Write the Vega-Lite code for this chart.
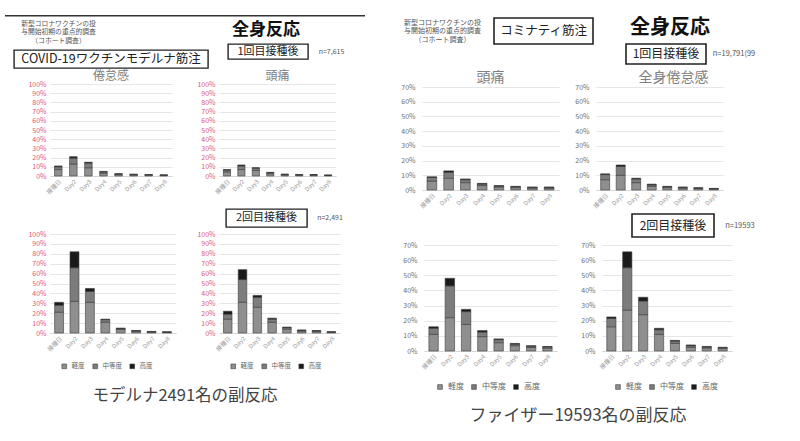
{
  "$schema": "https://vega.github.io/schema/vega-lite/v6.json",
  "padding": {"left": 5, "top": 15, "right": 0, "bottom": 8},
  "background": "white",
  "spacing": 30,
  "resolve": {"scale": {"color": "independent"}, "legend": {"color": "independent"}},
  "datasets": {
    "blank": [],
    "bars": [
      {"panel": "M1倦怠感", "day": "接種日", "mild": 7, "moderate": 3, "severe": 1},
      {"panel": "M1倦怠感", "day": "Day2", "mild": 13, "moderate": 6.5, "severe": 1.5},
      {"panel": "M1倦怠感", "day": "Day3", "mild": 9, "moderate": 5, "severe": 1},
      {"panel": "M1倦怠感", "day": "Day4", "mild": 3, "moderate": 1.5, "severe": 0.5},
      {"panel": "M1倦怠感", "day": "Day5", "mild": 1.5, "moderate": 0.7, "severe": 0.3},
      {"panel": "M1倦怠感", "day": "Day6", "mild": 1.2, "moderate": 0.5, "severe": 0.3},
      {"panel": "M1倦怠感", "day": "Day7", "mild": 1, "moderate": 0.4, "severe": 0.2},
      {"panel": "M1倦怠感", "day": "Day8", "mild": 0.7, "moderate": 0.3, "severe": 0.2},
      {"panel": "M1頭痛", "day": "接種日", "mild": 4.5, "moderate": 2, "severe": 0.5},
      {"panel": "M1頭痛", "day": "Day2", "mild": 7, "moderate": 4, "severe": 1},
      {"panel": "M1頭痛", "day": "Day3", "mild": 6, "moderate": 2.5, "severe": 0.5},
      {"panel": "M1頭痛", "day": "Day4", "mild": 2.5, "moderate": 1, "severe": 0.5},
      {"panel": "M1頭痛", "day": "Day5", "mild": 1.3, "moderate": 0.5, "severe": 0.2},
      {"panel": "M1頭痛", "day": "Day6", "mild": 1, "moderate": 0.4, "severe": 0.2},
      {"panel": "M1頭痛", "day": "Day7", "mild": 1, "moderate": 0.4, "severe": 0.2},
      {"panel": "M1頭痛", "day": "Day8", "mild": 0.6, "moderate": 0.3, "severe": 0.1},
      {"panel": "M2倦怠感", "day": "接種日", "mild": 21, "moderate": 7, "severe": 3},
      {"panel": "M2倦怠感", "day": "Day2", "mild": 32, "moderate": 34, "severe": 16},
      {"panel": "M2倦怠感", "day": "Day3", "mild": 31, "moderate": 11, "severe": 3},
      {"panel": "M2倦怠感", "day": "Day4", "mild": 11, "moderate": 2.5, "severe": 0.5},
      {"panel": "M2倦怠感", "day": "Day5", "mild": 3.5, "moderate": 1, "severe": 0.5},
      {"panel": "M2倦怠感", "day": "Day6", "mild": 1.7, "moderate": 0.6, "severe": 0.2},
      {"panel": "M2倦怠感", "day": "Day7", "mild": 1, "moderate": 0.4, "severe": 0.2},
      {"panel": "M2倦怠感", "day": "Day8", "mild": 0.7, "moderate": 0.3, "severe": 0.1},
      {"panel": "M2頭痛", "day": "接種日", "mild": 14, "moderate": 5, "severe": 3},
      {"panel": "M2頭痛", "day": "Day2", "mild": 31, "moderate": 23, "severe": 10},
      {"panel": "M2頭痛", "day": "Day3", "mild": 26, "moderate": 10, "severe": 2},
      {"panel": "M2頭痛", "day": "Day4", "mild": 11, "moderate": 3, "severe": 1},
      {"panel": "M2頭痛", "day": "Day5", "mild": 4, "moderate": 1.5, "severe": 0.5},
      {"panel": "M2頭痛", "day": "Day6", "mild": 2, "moderate": 0.7, "severe": 0.3},
      {"panel": "M2頭痛", "day": "Day7", "mild": 1.7, "moderate": 0.5, "severe": 0.3},
      {"panel": "M2頭痛", "day": "Day8", "mild": 0.8, "moderate": 0.3, "severe": 0.1},
      {"panel": "P1頭痛", "day": "接種日", "mild": 6, "moderate": 2.5, "severe": 0.5},
      {"panel": "P1頭痛", "day": "Day2", "mild": 8, "moderate": 4, "severe": 1},
      {"panel": "P1頭痛", "day": "Day3", "mild": 5, "moderate": 2, "severe": 0.5},
      {"panel": "P1頭痛", "day": "Day4", "mild": 3, "moderate": 1, "severe": 0.5},
      {"panel": "P1頭痛", "day": "Day5", "mild": 2, "moderate": 0.7, "severe": 0.3},
      {"panel": "P1頭痛", "day": "Day6", "mild": 1.6, "moderate": 0.6, "severe": 0.3},
      {"panel": "P1頭痛", "day": "Day7", "mild": 1.3, "moderate": 0.5, "severe": 0.2},
      {"panel": "P1頭痛", "day": "Day8", "mild": 1.3, "moderate": 0.5, "severe": 0.2},
      {"panel": "P1倦怠感", "day": "接種日", "mild": 7, "moderate": 3.5, "severe": 0.5},
      {"panel": "P1倦怠感", "day": "Day2", "mild": 10, "moderate": 6, "severe": 1},
      {"panel": "P1倦怠感", "day": "Day3", "mild": 5, "moderate": 2.5, "severe": 0.5},
      {"panel": "P1倦怠感", "day": "Day4", "mild": 2.5, "moderate": 1, "severe": 0.5},
      {"panel": "P1倦怠感", "day": "Day5", "mild": 1.6, "moderate": 0.6, "severe": 0.3},
      {"panel": "P1倦怠感", "day": "Day6", "mild": 1.3, "moderate": 0.5, "severe": 0.2},
      {"panel": "P1倦怠感", "day": "Day7", "mild": 1, "moderate": 0.4, "severe": 0.1},
      {"panel": "P1倦怠感", "day": "Day8", "mild": 0.7, "moderate": 0.3, "severe": 0.1},
      {"panel": "P2頭痛", "day": "接種日", "mild": 11, "moderate": 4, "severe": 1},
      {"panel": "P2頭痛", "day": "Day2", "mild": 22, "moderate": 21, "severe": 5},
      {"panel": "P2頭痛", "day": "Day3", "mild": 17.5, "moderate": 8.5, "severe": 1.5},
      {"panel": "P2頭痛", "day": "Day4", "mild": 9.5, "moderate": 3, "severe": 1},
      {"panel": "P2頭痛", "day": "Day5", "mild": 5.5, "moderate": 2, "severe": 0.5},
      {"panel": "P2頭痛", "day": "Day6", "mild": 3.5, "moderate": 1, "severe": 0.5},
      {"panel": "P2頭痛", "day": "Day7", "mild": 2.3, "moderate": 0.8, "severe": 0.4},
      {"panel": "P2頭痛", "day": "Day8", "mild": 2, "moderate": 0.7, "severe": 0.3},
      {"panel": "P2倦怠感", "day": "接種日", "mild": 16, "moderate": 5.5, "severe": 1},
      {"panel": "P2倦怠感", "day": "Day2", "mild": 27, "moderate": 28, "severe": 10.5},
      {"panel": "P2倦怠感", "day": "Day3", "mild": 24, "moderate": 9, "severe": 2.5},
      {"panel": "P2倦怠感", "day": "Day4", "mild": 11, "moderate": 3, "severe": 1},
      {"panel": "P2倦怠感", "day": "Day5", "mild": 5, "moderate": 1.5, "severe": 0.5},
      {"panel": "P2倦怠感", "day": "Day6", "mild": 2.5, "moderate": 1, "severe": 0.5},
      {"panel": "P2倦怠感", "day": "Day7", "mild": 2, "moderate": 0.7, "severe": 0.3},
      {"panel": "P2倦怠感", "day": "Day8", "mild": 1.6, "moderate": 0.6, "severe": 0.3}
    ]
  },
  "hconcat": [
    {
      "spacing": 0,
      "resolve": {"scale": {"color": "independent"}, "legend": {"color": "independent"}},
      "title": {"text": "モデルナ2491名の副反応", "orient": "bottom", "anchor": "middle", "fontSize": 16.5, "color": "#444", "offset": 7},
      "vconcat": [
        {"width": 360, "height": 1.5, "view": {"fill": "#333", "stroke": null}, "data": {"name": "blank"}, "mark": "point"},
        {"width": 1, "height": 2.5, "data": {"name": "blank"}, "mark": "point"},
        {
          "spacing": 0,
          "hconcat": [
            {"width": 8, "height": 1, "data": {"name": "blank"}, "mark": "point"},
            {
              "spacing": 0,
              "vconcat": [
                {
                  "spacing": 0,
                  "hconcat": [
                    {"width": 7, "height": 1, "data": {"name": "blank"}, "mark": "point"},
                    {
                      "width": 75, "height": 1,
                      "data": {"values": [{"label": "新型コロナワクチンの投\n与開始初期の重点的調査\n（コホート調査）"}]},
                      "mark": {"type": "text", "fontSize": 6.8, "lineHeight": 8.5, "lineBreak": "\n", "baseline": "top", "color": "#555"},
                      "encoding": {"text": {"field": "label"}}
                    }
                  ]
                },
                {"width": 1, "height": 4, "data": {"name": "blank"}, "mark": "point"},
                {
                  "width": 194, "height": 18,
                  "view": {"stroke": "#222", "strokeWidth": 1.4},
                  "data": {"values": [{"label": "COVID-19ワクチンモデルナ筋注"}]},
                  "mark": {"type": "text", "fontSize": 12.5, "color": "#222"},
                  "encoding": {"text": {"field": "label"}}
                }
              ]
            },
            {"width": 18, "height": 1, "data": {"name": "blank"}, "mark": "point"},
            {
              "spacing": 0,
              "vconcat": [
                {
                  "width": 76, "height": 20,
                  "data": {"values": [{"label": "全身反応"}]},
                  "mark": {"type": "text", "fontSize": 17, "fontWeight": "bold", "color": "#111"},
                  "encoding": {"text": {"field": "label"}}
                },
                {"width": 1, "height": 3, "data": {"name": "blank"}, "mark": "point"},
                {
                  "spacing": 0,
                  "hconcat": [
                    {
                      "width": 80, "height": 15,
                      "view": {"stroke": "#222", "strokeWidth": 1.4},
                      "data": {"values": [{"label": "1回目接種後"}]},
                      "mark": {"type": "text", "fontSize": 11, "color": "#222"},
                      "encoding": {"text": {"field": "label"}}
                    },
                    {"width": 5, "height": 1, "data": {"name": "blank"}, "mark": "point"},
                    {
                      "width": 35, "height": 15,
                      "data": {"values": [{"label": "n=7,615"}]},
                      "mark": {"type": "text", "fontSize": 7, "color": "#555"},
                      "encoding": {"text": {"field": "label"}}
                    }
                  ]
                }
              ]
            }
          ]
        },
        {"width": 1, "height": 1, "data": {"name": "blank"}, "mark": "point"},
        {
          "spacing": 0,
          "resolve": {"scale": {"color": "independent"}, "legend": {"color": "independent"}},
          "hconcat": [
            {"width": 22, "height": 1, "data": {"name": "blank"}, "mark": "point"},
            {
              "width": 122, "height": 92,
              "title": {"text": "倦怠感", "offset": -3, "fontSize": 12},
              "data": {"name": "bars"},
              "transform": [{"filter": "datum.panel === 'M1倦怠感'"}, {"fold": ["mild", "moderate", "severe"], "as": ["severity", "pct"]}],
              "mark": "bar",
              "encoding": {
                "x": {"field": "day", "type": "ordinal", "sort": ["接種日", "Day2", "Day3", "Day4", "Day5", "Day6", "Day7", "Day8"], "title": null, "scale": {"paddingInner": 0.5, "paddingOuter": 0.3}},
                "y": {"field": "pct", "type": "quantitative", "stack": "zero", "title": null, "scale": {"domain": [0, 100], "nice": false}, "axis": {"values": [0, 10, 20, 30, 40, 50, 60, 70, 80, 90, 100], "labelExpr": "datum.value + '%'", "labelColor": "#e0567a"}},
                "color": {"field": "severity", "type": "nominal", "scale": {"domain": ["mild", "moderate", "severe"], "range": ["#8f8f8f", "#7c7c7c", "#1a1a1a"]}, "legend": null},
                "order": {"field": "severity", "sort": "ascending"}
              }
            },
            {"width": 24, "height": 1, "data": {"name": "blank"}, "mark": "point"},
            {
              "width": 117, "height": 92,
              "title": {"text": "頭痛", "offset": -3, "fontSize": 12},
              "data": {"name": "bars"},
              "transform": [{"filter": "datum.panel === 'M1頭痛'"}, {"fold": ["mild", "moderate", "severe"], "as": ["severity", "pct"]}],
              "mark": "bar",
              "encoding": {
                "x": {"field": "day", "type": "ordinal", "sort": ["接種日", "Day2", "Day3", "Day4", "Day5", "Day6", "Day7", "Day8"], "title": null, "scale": {"paddingInner": 0.5, "paddingOuter": 0.3}},
                "y": {"field": "pct", "type": "quantitative", "stack": "zero", "title": null, "scale": {"domain": [0, 100], "nice": false}, "axis": {"values": [0, 10, 20, 30, 40, 50, 60, 70, 80, 90, 100], "labelExpr": "datum.value + '%'", "labelColor": "#e0567a"}},
                "color": {"field": "severity", "type": "nominal", "scale": {"domain": ["mild", "moderate", "severe"], "range": ["#8f8f8f", "#7c7c7c", "#1a1a1a"]}, "legend": null},
                "order": {"field": "severity", "sort": "ascending"}
              }
            }
          ]
        },
        {"width": 1, "height": 13, "data": {"name": "blank"}, "mark": "point"},
        {
          "spacing": 0,
          "hconcat": [
            {"width": 220, "height": 1, "data": {"name": "blank"}, "mark": "point"},
            {
              "width": 81, "height": 18,
              "view": {"stroke": "#222", "strokeWidth": 1.4},
              "data": {"values": [{"label": "2回目接種後"}]},
              "mark": {"type": "text", "fontSize": 11, "color": "#222"},
              "encoding": {"text": {"field": "label"}}
            },
            {"width": 6, "height": 1, "data": {"name": "blank"}, "mark": "point"},
            {
              "width": 32, "height": 18,
              "data": {"values": [{"label": "n=2,491"}]},
              "mark": {"type": "text", "fontSize": 7, "color": "#555"},
              "encoding": {"text": {"field": "label"}}
            }
          ]
        },
        {"width": 1, "height": 2, "data": {"name": "blank"}, "mark": "point"},
        {
          "spacing": 0,
          "resolve": {"scale": {"color": "independent"}, "legend": {"color": "independent"}},
          "hconcat": [
            {"width": 22, "height": 1, "data": {"name": "blank"}, "mark": "point"},
            {
              "width": 126, "height": 99,
              "data": {"name": "bars"},
              "transform": [{"filter": "datum.panel === 'M2倦怠感'"}, {"fold": ["mild", "moderate", "severe"], "as": ["severity", "pct"]}],
              "mark": "bar",
              "encoding": {
                "x": {"field": "day", "type": "ordinal", "sort": ["接種日", "Day2", "Day3", "Day4", "Day5", "Day6", "Day7", "Day8"], "title": null, "scale": {"paddingInner": 0.42, "paddingOuter": 0.3}},
                "y": {"field": "pct", "type": "quantitative", "stack": "zero", "title": null, "scale": {"domain": [0, 100], "nice": false}, "axis": {"values": [0, 10, 20, 30, 40, 50, 60, 70, 80, 90, 100], "labelExpr": "datum.value + '%'", "labelColor": "#e0567a"}},
                "color": {"field": "severity", "type": "nominal", "scale": {"domain": ["mild", "moderate", "severe"], "range": ["#8f8f8f", "#7c7c7c", "#1a1a1a"]}, "legend": {"title": null, "labelFontSize": 6.5, "offset": 0, "padding": 11, "labelExpr": "{'mild': '軽度', 'moderate': '中等度', 'severe': '高度'}[datum.label]"}},
                "order": {"field": "severity", "sort": "ascending"}
              }
            },
            {"width": 20, "height": 1, "data": {"name": "blank"}, "mark": "point"},
            {
              "width": 121, "height": 99,
              "data": {"name": "bars"},
              "transform": [{"filter": "datum.panel === 'M2頭痛'"}, {"fold": ["mild", "moderate", "severe"], "as": ["severity", "pct"]}],
              "mark": "bar",
              "encoding": {
                "x": {"field": "day", "type": "ordinal", "sort": ["接種日", "Day2", "Day3", "Day4", "Day5", "Day6", "Day7", "Day8"], "title": null, "scale": {"paddingInner": 0.42, "paddingOuter": 0.3}},
                "y": {"field": "pct", "type": "quantitative", "stack": "zero", "title": null, "scale": {"domain": [0, 100], "nice": false}, "axis": {"values": [0, 10, 20, 30, 40, 50, 60, 70, 80, 90, 100], "labelExpr": "datum.value + '%'", "labelColor": "#e0567a"}},
                "color": {"field": "severity", "type": "nominal", "scale": {"domain": ["mild", "moderate", "severe"], "range": ["#8f8f8f", "#7c7c7c", "#1a1a1a"]}, "legend": {"title": null, "labelFontSize": 6.5, "offset": 0, "padding": 11, "labelExpr": "{'mild': '軽度', 'moderate': '中等度', 'severe': '高度'}[datum.label]"}},
                "order": {"field": "severity", "sort": "ascending"}
              }
            }
          ]
        }
      ]
    },
    {
      "spacing": 0,
      "resolve": {"scale": {"color": "independent"}, "legend": {"color": "independent"}},
      "title": {"text": "ファイザー19593名の副反応", "orient": "bottom", "anchor": "middle", "fontSize": 17, "color": "#444", "offset": 5},
      "vconcat": [
        {"width": 1, "height": 2, "data": {"name": "blank"}, "mark": "point"},
        {
          "spacing": 0,
          "hconcat": [
            {"width": 5, "height": 1, "data": {"name": "blank"}, "mark": "point"},
            {
              "width": 85, "height": 1,
              "data": {"values": [{"label": "新型コロナワクチンの投\n与開始初期の重点的調査\n（コホート調査）"}]},
              "mark": {"type": "text", "fontSize": 7, "lineHeight": 8.5, "lineBreak": "\n", "baseline": "top", "color": "#555"},
              "encoding": {"text": {"field": "label"}}
            },
            {"width": 8, "height": 1, "data": {"name": "blank"}, "mark": "point"},
            {
              "width": 99, "height": 26,
              "view": {"stroke": "#222", "strokeWidth": 1.6},
              "data": {"values": [{"label": "コミナティ筋注"}]},
              "mark": {"type": "text", "fontSize": 12.5, "color": "#222"},
              "encoding": {"text": {"field": "label"}}
            },
            {"width": 31, "height": 1, "data": {"name": "blank"}, "mark": "point"},
            {
              "spacing": 0,
              "vconcat": [
                {
                  "width": 88, "height": 20,
                  "data": {"values": [{"label": "全身反応"}]},
                  "mark": {"type": "text", "fontSize": 20, "fontWeight": "bold", "color": "#111"},
                  "encoding": {"text": {"field": "label"}}
                },
                {"width": 1, "height": 5, "data": {"name": "blank"}, "mark": "point"},
                {
                  "spacing": 0,
                  "hconcat": [
                    {
                      "width": 80, "height": 20,
                      "view": {"stroke": "#222", "strokeWidth": 1.6},
                      "data": {"values": [{"label": "1回目接種後"}]},
                      "mark": {"type": "text", "fontSize": 12, "color": "#222"},
                      "encoding": {"text": {"field": "label"}}
                    },
                    {"width": 3, "height": 1, "data": {"name": "blank"}, "mark": "point"},
                    {
                      "width": 48, "height": 20,
                      "data": {"values": [{"label": "n=19,791(99"}]},
                      "mark": {"type": "text", "fontSize": 7.5, "color": "#555"},
                      "encoding": {"text": {"field": "label"}}
                    }
                  ]
                }
              ]
            }
          ]
        },
        {"width": 1, "height": 6, "data": {"name": "blank"}, "mark": "point"},
        {
          "spacing": 0,
          "resolve": {"scale": {"color": "independent"}, "legend": {"color": "independent"}},
          "hconcat": [
            {"width": 5, "height": 1, "data": {"name": "blank"}, "mark": "point"},
            {
              "width": 137, "height": 103,
              "title": {"text": "頭痛", "offset": -2, "fontSize": 14},
              "data": {"name": "bars"},
              "transform": [{"filter": "datum.panel === 'P1頭痛'"}, {"fold": ["mild", "moderate", "severe"], "as": ["severity", "pct"]}],
              "mark": "bar",
              "encoding": {
                "x": {"field": "day", "type": "ordinal", "sort": ["接種日", "Day2", "Day3", "Day4", "Day5", "Day6", "Day7", "Day8"], "title": null, "scale": {"paddingInner": 0.42, "paddingOuter": 0.3}},
                "y": {"field": "pct", "type": "quantitative", "stack": "zero", "title": null, "scale": {"domain": [0, 70], "nice": false}, "axis": {"values": [0, 10, 20, 30, 40, 50, 60, 70], "labelExpr": "datum.value + '%'", "labelColor": "#707070", "labelPadding": 7}},
                "color": {"field": "severity", "type": "nominal", "scale": {"domain": ["mild", "moderate", "severe"], "range": ["#8f8f8f", "#7c7c7c", "#1a1a1a"]}, "legend": null},
                "order": {"field": "severity", "sort": "ascending"}
              }
            },
            {"width": 15, "height": 1, "data": {"name": "blank"}, "mark": "point"},
            {
              "width": 127, "height": 103,
              "title": {"text": "全身倦怠感", "offset": -2, "fontSize": 14, "dx": 14},
              "data": {"name": "bars"},
              "transform": [{"filter": "datum.panel === 'P1倦怠感'"}, {"fold": ["mild", "moderate", "severe"], "as": ["severity", "pct"]}],
              "mark": "bar",
              "encoding": {
                "x": {"field": "day", "type": "ordinal", "sort": ["接種日", "Day2", "Day3", "Day4", "Day5", "Day6", "Day7", "Day8"], "title": null, "scale": {"paddingInner": 0.42, "paddingOuter": 0.3}},
                "y": {"field": "pct", "type": "quantitative", "stack": "zero", "title": null, "scale": {"domain": [0, 70], "nice": false}, "axis": {"values": [0, 10, 20, 30, 40, 50, 60, 70], "labelExpr": "datum.value + '%'", "labelColor": "#707070", "labelPadding": 7}},
                "color": {"field": "severity", "type": "nominal", "scale": {"domain": ["mild", "moderate", "severe"], "range": ["#8f8f8f", "#7c7c7c", "#1a1a1a"]}, "legend": null},
                "order": {"field": "severity", "sort": "ascending"}
              }
            }
          ]
        },
        {"width": 1, "height": 4, "data": {"name": "blank"}, "mark": "point"},
        {
          "spacing": 0,
          "hconcat": [
            {"width": 236, "height": 1, "data": {"name": "blank"}, "mark": "point"},
            {
              "width": 82, "height": 23,
              "view": {"stroke": "#222", "strokeWidth": 1.6},
              "data": {"values": [{"label": "2回目接種後"}]},
              "mark": {"type": "text", "fontSize": 12, "color": "#222"},
              "encoding": {"text": {"field": "label"}}
            },
            {"width": 4, "height": 1, "data": {"name": "blank"}, "mark": "point"},
            {
              "width": 42, "height": 23,
              "data": {"values": [{"label": "n=19593"}]},
              "mark": {"type": "text", "fontSize": 7.5, "color": "#555"},
              "encoding": {"text": {"field": "label"}}
            }
          ]
        },
        {"width": 1, "height": 3, "data": {"name": "blank"}, "mark": "point"},
        {
          "spacing": 0,
          "resolve": {"scale": {"color": "independent"}, "legend": {"color": "independent"}},
          "hconcat": [
            {"width": 7, "height": 1, "data": {"name": "blank"}, "mark": "point"},
            {
              "width": 133, "height": 106,
              "data": {"name": "bars"},
              "transform": [{"filter": "datum.panel === 'P2頭痛'"}, {"fold": ["mild", "moderate", "severe"], "as": ["severity", "pct"]}],
              "mark": "bar",
              "encoding": {
                "x": {"field": "day", "type": "ordinal", "sort": ["接種日", "Day2", "Day3", "Day4", "Day5", "Day6", "Day7", "Day8"], "title": null, "scale": {"paddingInner": 0.42, "paddingOuter": 0.3}},
                "y": {"field": "pct", "type": "quantitative", "stack": "zero", "title": null, "scale": {"domain": [0, 70], "nice": false}, "axis": {"values": [0, 10, 20, 30, 40, 50, 60, 70], "labelExpr": "datum.value + '%'", "labelColor": "#707070", "labelPadding": 7}},
                "color": {"field": "severity", "type": "nominal", "scale": {"domain": ["mild", "moderate", "severe"], "range": ["#8f8f8f", "#7c7c7c", "#1a1a1a"]}, "legend": {"title": null, "labelFontSize": 8, "offset": 1, "padding": 12, "labelExpr": "{'mild': '軽度', 'moderate': '中等度', 'severe': '高度'}[datum.label]"}},
                "order": {"field": "severity", "sort": "ascending"}
              }
            },
            {"width": 23, "height": 1, "data": {"name": "blank"}, "mark": "point"},
            {
              "width": 130, "height": 106,
              "data": {"name": "bars"},
              "transform": [{"filter": "datum.panel === 'P2倦怠感'"}, {"fold": ["mild", "moderate", "severe"], "as": ["severity", "pct"]}],
              "mark": "bar",
              "encoding": {
                "x": {"field": "day", "type": "ordinal", "sort": ["接種日", "Day2", "Day3", "Day4", "Day5", "Day6", "Day7", "Day8"], "title": null, "scale": {"paddingInner": 0.42, "paddingOuter": 0.3}},
                "y": {"field": "pct", "type": "quantitative", "stack": "zero", "title": null, "scale": {"domain": [0, 70], "nice": false}, "axis": {"values": [0, 10, 20, 30, 40, 50, 60, 70], "labelExpr": "datum.value + '%'", "labelColor": "#707070", "labelPadding": 7}},
                "color": {"field": "severity", "type": "nominal", "scale": {"domain": ["mild", "moderate", "severe"], "range": ["#8f8f8f", "#7c7c7c", "#1a1a1a"]}, "legend": {"title": null, "labelFontSize": 8, "offset": 1, "padding": 12, "labelExpr": "{'mild': '軽度', 'moderate': '中等度', 'severe': '高度'}[datum.label]"}},
                "order": {"field": "severity", "sort": "ascending"}
              }
            }
          ]
        }
      ]
    }
  ],
  "config": {
    "font": "Noto Sans CJK JP",
    "concat": {"spacing": 0},
    "view": {"stroke": null},
    "axisX": {"labelAngle": -45, "labelFontSize": 6, "labelColor": "#9a9a9a", "domainColor": "#d5d5d5", "ticks": false, "labelPadding": 2, "grid": false},
    "axisY": {"labelFontSize": 7, "gridColor": "#e6e6e6", "domain": false, "ticks": false, "labelPadding": 4},
    "bar": {"stroke": "#3c3c3c", "strokeWidth": 0.6},
    "title": {"fontWeight": "normal", "color": "#808080", "fontSize": 13},
    "legend": {"orient": "bottom", "symbolType": "square", "labelFontSize": 7, "labelColor": "#666", "symbolSize": 22, "columnPadding": 6, "symbolStrokeWidth": 0, "offset": 4}
  }
}
